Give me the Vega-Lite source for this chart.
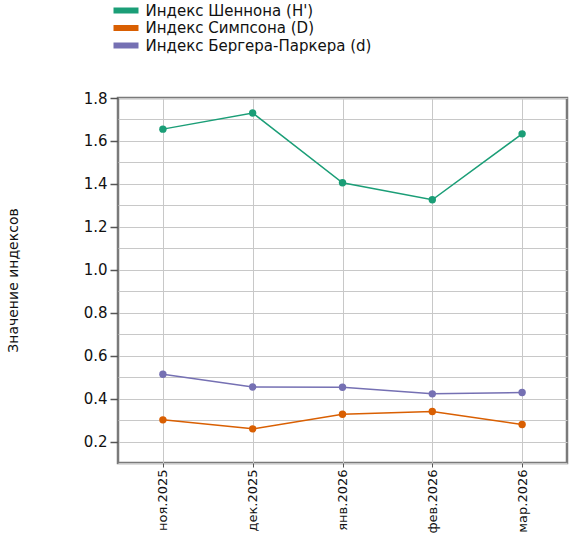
{
  "$schema": "https://vega.github.io/schema/vega-lite/v6.json",
  "description": "Индексы разнообразия по месяцам",
  "width": 449,
  "height": 365,
  "autosize": "none",
  "padding": {"left": 118, "top": 98, "right": 12, "bottom": 73},
  "config": {
    "font": "DejaVu Sans",
    "view": {"stroke": "#7a7a7a", "strokeWidth": 2.5},
    "axis": {"domain": false, "gridColor": "#c8c8c8", "gridWidth": 1, "labelColor": "#111", "tickColor": "#555"}
  },
  "data": {
    "values": [
      {"month": "ноя.2025", "index": "Индекс Шеннона (H')", "value": 1.655},
      {"month": "дек.2025", "index": "Индекс Шеннона (H')", "value": 1.73},
      {"month": "янв.2026", "index": "Индекс Шеннона (H')", "value": 1.405},
      {"month": "фев.2026", "index": "Индекс Шеннона (H')", "value": 1.326},
      {"month": "мар.2026", "index": "Индекс Шеннона (H')", "value": 1.633},
      {"month": "ноя.2025", "index": "Индекс Симпсона (D)", "value": 0.301},
      {"month": "дек.2025", "index": "Индекс Симпсона (D)", "value": 0.259},
      {"month": "янв.2026", "index": "Индекс Симпсона (D)", "value": 0.327},
      {"month": "фев.2026", "index": "Индекс Симпсона (D)", "value": 0.34},
      {"month": "мар.2026", "index": "Индекс Симпсона (D)", "value": 0.279},
      {"month": "ноя.2025", "index": "Индекс Бергера-Паркера (d)", "value": 0.513},
      {"month": "дек.2025", "index": "Индекс Бергера-Паркера (d)", "value": 0.454},
      {"month": "янв.2026", "index": "Индекс Бергера-Паркера (d)", "value": 0.453},
      {"month": "фев.2026", "index": "Индекс Бергера-Паркера (d)", "value": 0.422},
      {"month": "мар.2026", "index": "Индекс Бергера-Паркера (d)", "value": 0.428}
    ]
  },
  "encoding": {
    "x": {
      "field": "month",
      "type": "ordinal",
      "sort": ["ноя.2025", "дек.2025", "янв.2026", "фев.2026", "мар.2026"],
      "scale": {"type": "point", "padding": 0.5},
      "axis": {
        "title": null,
        "labelAngle": -90,
        "labelFontSize": 13,
        "labelPadding": 2,
        "tickSize": 4,
        "grid": true
      }
    },
    "y": {
      "field": "value",
      "type": "quantitative",
      "scale": {"domain": [0.1, 1.8], "nice": false, "zero": false},
      "axis": {
        "title": "Значение индексов",
        "titleFontSize": 14,
        "titleFontWeight": "normal",
        "titleColor": "#111",
        "titleX": -105,
        "titleY": 182,
        "titleAlign": "center",
        "titleBaseline": "middle",
        "values": [0.1, 0.2, 0.3, 0.4, 0.5, 0.6, 0.7, 0.8, 0.9, 1.0, 1.1, 1.2, 1.3, 1.4, 1.5, 1.6, 1.7, 1.8],
        "labelExpr": "round(datum.value * 10) % 2 == 0 ? format(datum.value, '.1f') : ''",
        "tickOpacity": {"condition": {"test": "round(datum.value * 10) % 2 == 0", "value": 1}, "value": 0},
        "labelFontSize": 15,
        "labelPadding": 3,
        "tickSize": 8,
        "tickWidth": 1.5
      }
    },
    "color": {
      "field": "index",
      "type": "nominal",
      "scale": {
        "domain": ["Индекс Шеннона (H')", "Индекс Симпсона (D)", "Индекс Бергера-Паркера (d)"],
        "range": ["#1b9e77", "#d95f02", "#7570b3"]
      },
      "legend": {
        "title": null,
        "orient": "none",
        "legendX": 0.5,
        "legendY": -95,
        "padding": 0,
        "symbolType": "M-2.5,-0.6H2.5V0.6H-2.5Z",
        "symbolSize": 100,
        "symbolStrokeWidth": 0,
        "symbolOpacity": 1,
        "labelFontSize": 15,
        "labelLimit": 0,
        "labelColor": "#111",
        "labelOffset": 12,
        "rowPadding": 1.5
      }
    }
  },
  "layer": [
    {"mark": {"type": "line", "strokeWidth": 1.5}},
    {"mark": {"type": "circle", "size": 55, "opacity": 1}}
  ]
}
